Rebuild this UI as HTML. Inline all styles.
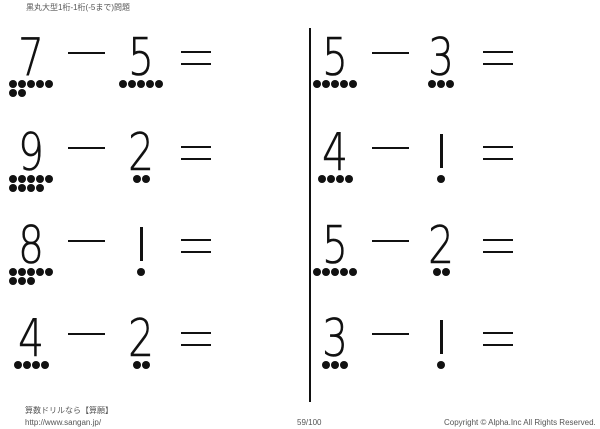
<!DOCTYPE html>
<html><head><meta charset="utf-8">
<style>
html,body{margin:0;padding:0;background:#fff;}
#c{position:relative;width:600px;height:429px;overflow:hidden;font-family:"Liberation Sans","Noto Sans CJK JP",sans-serif;color:#111;}
.d{position:absolute;font-family:"DejaVu Sans","Liberation Sans",sans-serif;font-weight:200;font-size:52px;line-height:52px;width:40px;text-align:center;transform:scaleX(0.78);transform-origin:center;-webkit-text-stroke:0.6px #111;}
.dot{position:absolute;width:8px;height:8px;border-radius:50%;background:#111;}
.bar{position:absolute;background:#111;}
.s{position:absolute;font-size:8px;color:#555;white-space:nowrap;}
</style></head><body><div id="c">
<div class="s" style="left:26px;top:2px;">黒丸大型1桁-1桁(-5まで)問題</div>
<div class="bar" style="left:309px;top:28px;width:1.5px;height:374px;"></div>
<div class="s" style="left:25px;top:405px;">算数ドリルなら【算願】</div>
<div class="s" style="left:25px;top:418px;">http://www.sangan.jp/</div>
<div class="s" style="left:297px;top:418px;">59/100</div>
<div class="s" style="left:444px;top:418px;">Copyright © Alpha.Inc All Rights Reserved.</div>
</div>
<script>
var c=document.getElementById('c');
function add(h){c.insertAdjacentHTML('beforeend',h);}
function num(n,cx,T){
  if(n==1){
    add('<div class="bar" style="left:'+(cx-1)+'px;top:'+(T+1)+'px;width:2.5px;height:34px;"></div>');
    add('<div class="dot" style="left:'+(cx-4)+'px;top:'+(T+42)+'px;"></div>');
    return;
  }
  add('<div class="d" style="left:'+(cx-20)+'px;top:'+(T-6)+'px;">'+n+'</div>');
  var first=Math.min(n,5), p=9;
  var x0=cx-(first*p-1)/2;
  for(var i=0;i<first;i++) add('<div class="dot" style="left:'+(x0+i*p)+'px;top:'+(T+42)+'px;"></div>');
  for(var i=0;i<n-5;i++) add('<div class="dot" style="left:'+(x0+i*p)+'px;top:'+(T+51)+'px;"></div>');
}
function eq(a,b,L,T){
  var c1=L?31:335,c2=L?141:441,m=L?68:372,e=L?181:483;
  num(a,c1,T);num(b,c2,T);
  add('<div class="bar" style="left:'+m+'px;top:'+(T+14)+'px;width:37px;height:2px;"></div>');
  add('<div class="bar" style="left:'+e+'px;top:'+(T+13)+'px;width:30px;height:2px;"></div>');
  add('<div class="bar" style="left:'+e+'px;top:'+(T+25)+'px;width:30px;height:2px;"></div>');
}
var T=[38,133,226,319];
eq(7,5,1,T[0]);eq(9,2,1,T[1]);eq(8,1,1,T[2]);eq(4,2,1,T[3]);
eq(5,3,0,T[0]);eq(4,1,0,T[1]);eq(5,2,0,T[2]);eq(3,1,0,T[3]);
</script>
</body></html>
